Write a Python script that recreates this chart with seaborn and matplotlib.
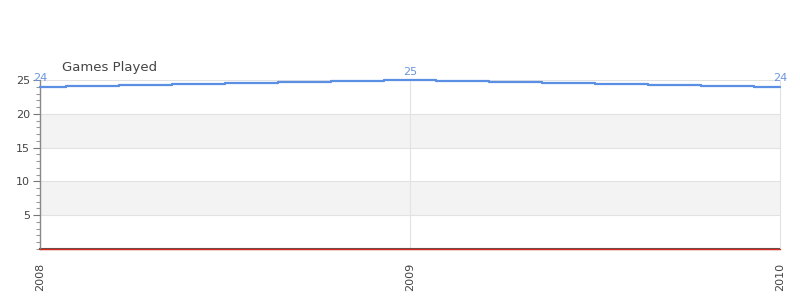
import matplotlib
matplotlib.use("Agg")
import matplotlib.pyplot as plt
import seaborn as sns
import pandas as pd
from matplotlib.ticker import MultipleLocator

periods = list(range(15))
games_played = [24, 24.14, 24.29, 24.43, 24.57, 24.71, 24.86, 25,
                24.86, 24.71, 24.57, 24.43, 24.29, 24.14, 24]
baseline = [0] * 15
tick_positions = [0, 7, 14]
tick_labels = ["2008", "2009", "2010"]
label_points = [0, 7, 14]

sns.set_style("white")
plt.rcParams['font.family'] = ['DejaVu Sans']

fig = plt.figure(figsize=(8, 3), dpi=100)
ax = fig.add_axes([0.05, 0.17, 0.925, 0.5633])

df = pd.DataFrame({"period": periods, "games": games_played, "base": baseline})

ax.axhspan(5, 10, color="#f3f3f3", zorder=0, lw=0)
ax.axhspan(15, 20, color="#f3f3f3", zorder=0, lw=0)
for y in [5, 10, 15, 20, 25]:
    ax.axhline(y, color="#e2e2e2", lw=0.8, zorder=1)
ax.axvline(7, color="#e2e2e2", lw=0.8, zorder=1)

sns.lineplot(data=df, x="period", y="games", ax=ax, color="#5b8fe3", lw=1.6,
             drawstyle="steps-mid", zorder=3, clip_on=False)
sns.lineplot(data=df, x="period", y="base", ax=ax, color="#d42a20", lw=1.0,
             zorder=3, clip_on=False)

for i in label_points:
    ax.annotate(f"{games_played[i]:.0f}", (periods[i], games_played[i]),
                xytext=(0, 2.5), textcoords="offset points", ha="center",
                va="bottom", color="#6a95dd", fontsize=8)

ax.set_xlim(0, 14)
ax.set_ylim(0, 25)
ax.set_xticks(tick_positions)
ax.set_xticklabels(tick_labels, rotation=90, fontsize=8, color="#444444")
ax.set_yticks([5, 10, 15, 20, 25])
ax.set_yticklabels(["5", "10", "15", "20", "25"], fontsize=8, color="#444444")
ax.yaxis.set_minor_locator(MultipleLocator(1))
ax.tick_params(axis="y", which="major", length=5, width=0.8, color="#777777", left=True, pad=2)
ax.tick_params(axis="y", which="minor", length=3, width=0.8, color="#999999", left=True)
ax.tick_params(axis="x", length=0, pad=10)
ax.set_xlabel("")
ax.set_ylabel("")

ax.spines["top"].set_visible(False)
ax.spines["right"].set_color("#e2e2e2")
ax.spines["right"].set_linewidth(0.8)
ax.spines["left"].set_color("#888888")
ax.spines["left"].set_linewidth(1)
ax.spines["bottom"].set_color("#555555")
ax.spines["bottom"].set_linewidth(1.5)
ax.spines["bottom"].set_zorder(2)

fig.text(62 / 800, 1 - 67 / 300, "Games Played", fontsize=9.5, color="#444444",
         ha="left", va="center")

fig.savefig("out.png", dpi=100)
